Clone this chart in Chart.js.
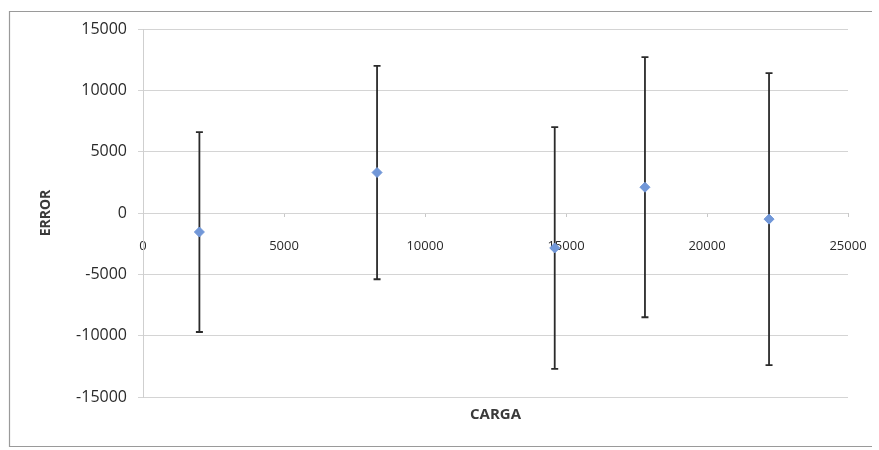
<!DOCTYPE html>
<html>
<head>
<meta charset="utf-8">
<script src="https://cdn.jsdelivr.net/npm/chart.js@4/dist/chart.umd.min.js"></script>
<style>
  html, body { margin: 0; padding: 0; background: #ffffff; }
  #wrap { width: 879px; height: 450px; position: relative; }
</style>
</head>
<body>
<div id="wrap"><canvas id="c"></canvas></div>
<script>
// ---- data ----
const cargaValues = [2000, 8300, 14600, 17800, 22200];
const errorValues = [-1550, 3300, -2850, 2100, -500];
const errorPlus   = [8150, 8700, 9850, 10600, 11900];
const errorMinus  = [8150, 8700, 9850, 10600, 11900];
const xTicks = [0, 5000, 10000, 15000, 20000, 25000];
const yTicks = [-15000, -10000, -5000, 0, 5000, 10000, 15000];
const xTitle = 'CARGA';
const yTitle = 'ERROR';

const points = cargaValues.map((x, i) => ({ x: x, y: errorValues[i] }));

const framePlugin = {
  id: 'frame',
  beforeDraw(chart) {
    const ctx = chart.ctx;
    ctx.save();
    ctx.fillStyle = '#ffffff';
    ctx.fillRect(0, 0, chart.width, chart.height);
    ctx.strokeStyle = '#9a9a9a';
    ctx.lineWidth = 1.2;
    ctx.beginPath();
    ctx.moveTo(872, 11.5);
    ctx.lineTo(9.5, 11.5);
    ctx.lineTo(9.5, 446.5);
    ctx.lineTo(872, 446.5);
    ctx.stroke();
    ctx.restore();
  }
};

const errorBarPlugin = {
  id: 'errorBars',
  beforeDatasetsDraw(chart) {
    const ctx = chart.ctx;
    const xs = chart.scales.x, ys = chart.scales.y;
    ctx.save();
    ctx.strokeStyle = '#2b2b2b';
    ctx.lineWidth = 1.8;
    const cap = 3.5;
    cargaValues.forEach((xv, i) => {
      const px = xs.getPixelForValue(xv);
      const top = ys.getPixelForValue(errorValues[i] + errorPlus[i]);
      const bot = ys.getPixelForValue(errorValues[i] - errorMinus[i]);
      ctx.beginPath();
      ctx.moveTo(px, top); ctx.lineTo(px, bot);
      ctx.moveTo(px - cap, top); ctx.lineTo(px + cap, top);
      ctx.moveTo(px - cap, bot); ctx.lineTo(px + cap, bot);
      ctx.stroke();
    });
    ctx.restore();
  }
};

const plain = (v) => String(v);

new Chart(document.getElementById('c'), {
  type: 'scatter',
  data: {
    datasets: [{
      data: points,
      pointStyle: 'rectRot',
      pointRadius: 5,
      pointHoverRadius: 5,
      backgroundColor: '#7197d8',
      borderColor: '#7197d8',
      borderWidth: 1
    }]
  },
  options: {
    responsive: true,
    maintainAspectRatio: false,
    animation: false,
    layout: { padding: { left: 0, right: 31, top: 29, bottom: 26 } },
    plugins: {
      legend: { display: false },
      tooltip: { enabled: false },
      title: {
        display: true,
        text: xTitle,
        position: 'bottom',
        fullSize: false,
        color: '#3a3a3a',
        font: { family: 'Open Sans', size: 15, weight: 'bold' },
        padding: { top: 9, bottom: 0 }
      }
    },
    scales: {
      x: {
        type: 'linear',
        position: { y: 0 },
        min: 0,
        max: 25000,
        z: 1,
        afterBuildTicks: (s) => { s.ticks = xTicks.map(v => ({ value: v })); },
        afterFit: (s) => { s.paddingLeft = 0; s.paddingRight = 0; },
        ticks: {
          color: '#2a2a2a',
          font: { family: 'Open Sans', size: 13 },
          padding: 21,
          maxRotation: 0,
          autoSkip: false,
          callback: plain
        },
        grid: { display: true, drawOnChartArea: false, drawTicks: true, tickLength: 4, color: '#c8c8c8' },
        border: { display: false }
      },
      y: {
        type: 'linear',
        position: 'left',
        min: -15000,
        max: 15000,
        afterBuildTicks: (s) => { s.ticks = yTicks.map(v => ({ value: v })); },
        afterFit: (s) => { s.width = 143; },
        ticks: {
          color: '#2a2a2a',
          font: { family: 'Open Sans', size: 16 },
          padding: 11,
          autoSkip: false,
          callback: plain
        },
        grid: { color: '#d4d4d4', lineWidth: 1, drawTicks: true, tickLength: 5 },
        border: { display: true, color: '#cfcfcf', width: 1 },
        title: {
          display: true,
          text: yTitle,
          color: '#3a3a3a',
          font: { family: 'Open Sans', size: 14, weight: 'bold' },
          padding: { top: 38, bottom: 0 }
        }
      }
    }
  },
  plugins: [framePlugin, errorBarPlugin]
});
</script>
</body>
</html>
